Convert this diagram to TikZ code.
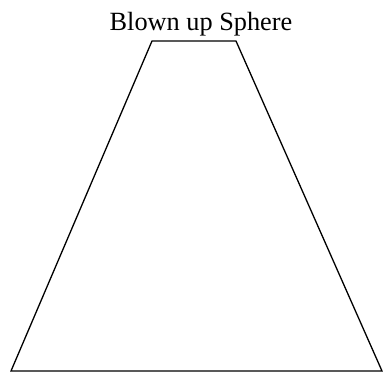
\documentclass[tikz,border=0pt]{standalone}
\usepackage{fontspec}
\setmainfont{Liberation Serif}
\begin{document}
\begin{tikzpicture}[x=1pt,y=-1pt,
  edge/.style={draw=black,line width=1.3pt,line join=miter},
  title/.style={font=\fontsize{26.3}{30}\selectfont,inner sep=0pt,anchor=base}]
\useasboundingbox (0,0) rectangle (384,374);
\coordinate (tl) at (152,41);
\coordinate (tr) at (236,41);
\coordinate (br) at (382,371);
\coordinate (bl) at (11,371);
\draw[edge] (tl) -- (tr) -- (br) -- (bl) -- cycle;
\node[title] (t) at (201,30.5) {Blown up Sphere};
\end{tikzpicture}
\end{document}
